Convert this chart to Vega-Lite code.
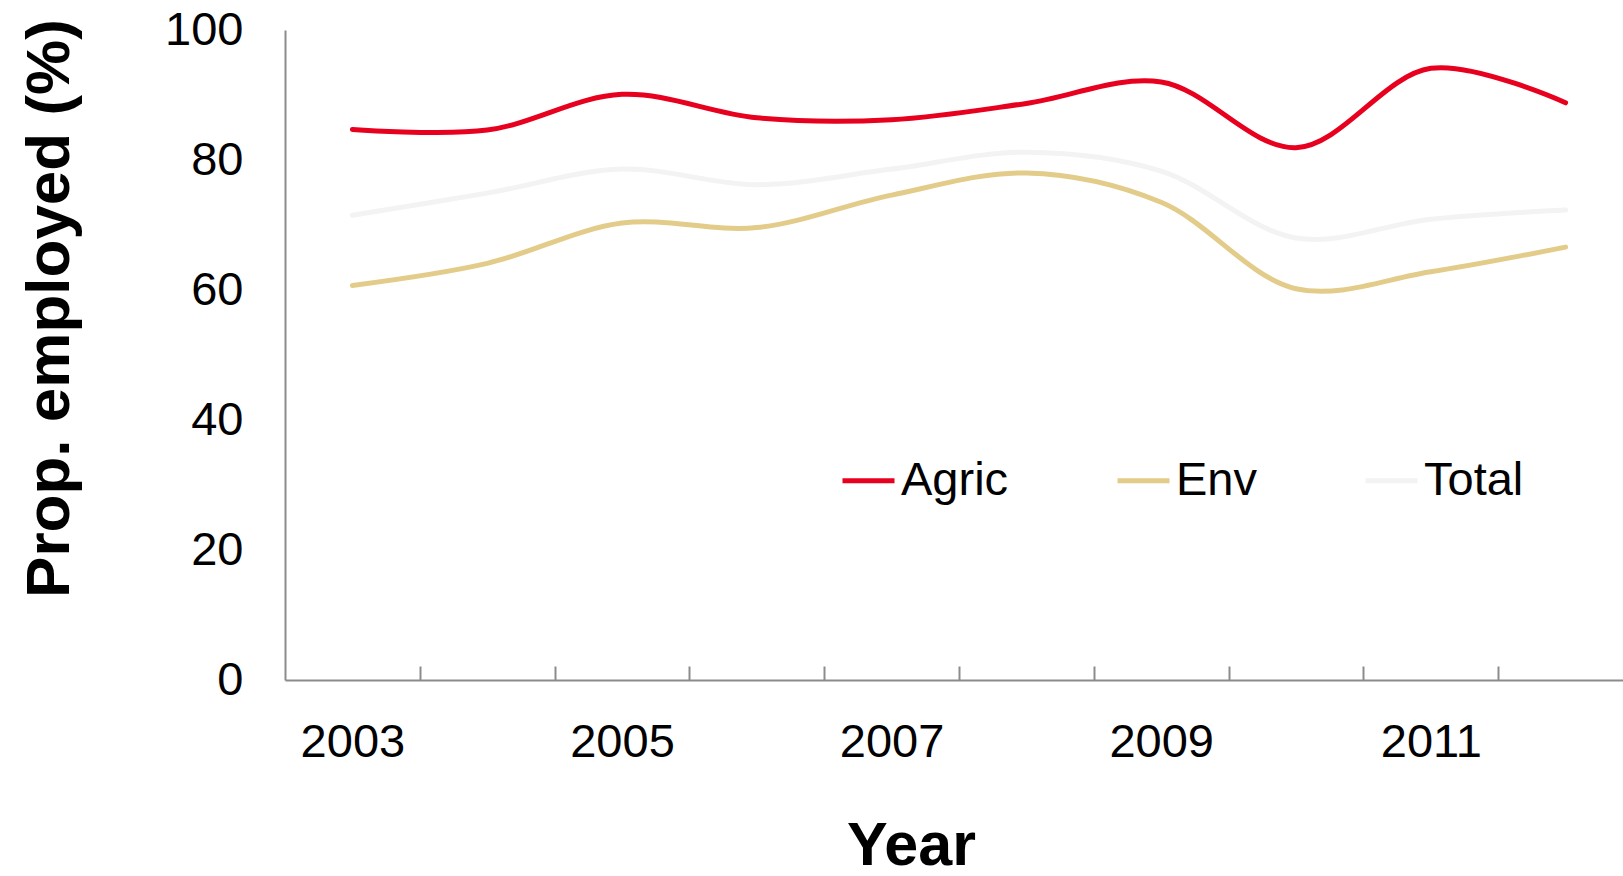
{
  "$schema": "https://vega.github.io/schema/vega-lite/v6.json",
  "autosize": "none",
  "width": 1338,
  "height": 650,
  "padding": {"left": 285, "top": 30, "right": 0, "bottom": 196},
  "background": "white",
  "config": {
    "view": {"stroke": null},
    "font": "Liberation Sans"
  },
  "data": {
    "values": [
      {"year": 2003, "series": "Agric", "value": 84.7},
      {"year": 2004, "series": "Agric", "value": 84.6},
      {"year": 2005, "series": "Agric", "value": 90.1},
      {"year": 2006, "series": "Agric", "value": 86.5},
      {"year": 2007, "series": "Agric", "value": 86.2},
      {"year": 2008, "series": "Agric", "value": 88.7},
      {"year": 2009, "series": "Agric", "value": 92.0},
      {"year": 2010, "series": "Agric", "value": 81.9},
      {"year": 2011, "series": "Agric", "value": 94.1},
      {"year": 2012, "series": "Agric", "value": 88.8},
      {"year": 2003, "series": "Env", "value": 60.7},
      {"year": 2004, "series": "Env", "value": 64.1},
      {"year": 2005, "series": "Env", "value": 70.3},
      {"year": 2006, "series": "Env", "value": 69.6},
      {"year": 2007, "series": "Env", "value": 74.6},
      {"year": 2008, "series": "Env", "value": 78.0},
      {"year": 2009, "series": "Env", "value": 73.5},
      {"year": 2010, "series": "Env", "value": 60.2},
      {"year": 2011, "series": "Env", "value": 62.8},
      {"year": 2012, "series": "Env", "value": 66.6},
      {"year": 2003, "series": "Total", "value": 71.5},
      {"year": 2004, "series": "Total", "value": 74.9},
      {"year": 2005, "series": "Total", "value": 78.6},
      {"year": 2006, "series": "Total", "value": 76.2},
      {"year": 2007, "series": "Total", "value": 78.6},
      {"year": 2008, "series": "Total", "value": 81.2},
      {"year": 2009, "series": "Total", "value": 78.3},
      {"year": 2010, "series": "Total", "value": 68.0},
      {"year": 2011, "series": "Total", "value": 70.9},
      {"year": 2012, "series": "Total", "value": 72.3}
    ]
  },
  "mark": {"type": "line", "interpolate": "catmull-rom", "strokeWidth": 5, "strokeCap": "round"},
  "encoding": {
    "x": {
      "field": "year",
      "type": "quantitative",
      "scale": {"domain": [2002.5, 2012.426], "nice": false, "zero": false},
      "axis": {
        "title": "Year",
        "titleFont": "Liberation Sans",
        "titleFontSize": 61,
        "titleFontWeight": "bold",
        "titleColor": "black",
        "titleX": 626,
        "titleY": 184,
        "titleAlign": "center",
        "titleBaseline": "alphabetic",
        "values": [2003, 2003.5, 2004.5, 2005, 2005.5, 2006.5, 2007, 2007.5, 2008.5, 2009, 2009.5, 2010.5, 2011, 2011.5],
        "labelExpr": "datum.value % 2 == 1 ? format(datum.value, 'd') : ''",
        "labelFontSize": 47,
        "labelColor": "black",
        "labelPadding": 53,
        "labelBaseline": "top",
        "labelOverlap": false,
        "labelFlush": false,
        "labelBound": false,
        "grid": false,
        "domainColor": "#8c8c8c",
        "domainWidth": 2,
        "tickColor": "#8c8c8c",
        "tickWidth": 2,
        "tickSize": -14,
        "tickOpacity": {"condition": {"test": "datum.value % 1 == 0", "value": 0}, "value": 1}
      }
    },
    "y": {
      "field": "value",
      "type": "quantitative",
      "scale": {"domain": [0, 100], "nice": false},
      "axis": {
        "title": "Prop. employed (%)",
        "titleFont": "Liberation Sans",
        "titleFontSize": 62,
        "titleFontWeight": "bold",
        "titleColor": "black",
        "titleX": -217,
        "titleY": 278,
        "titleAngle": -90,
        "titleAlign": "center",
        "titleBaseline": "alphabetic",
        "values": [0, 20, 40, 60, 80, 100],
        "labelFontSize": 47,
        "labelColor": "black",
        "labelPadding": 42,
        "labelFlush": false,
        "labelOverlap": false,
        "ticks": false,
        "grid": false,
        "domainColor": "#8c8c8c",
        "domainWidth": 2
      }
    },
    "color": {
      "field": "series",
      "type": "nominal",
      "scale": {"domain": ["Agric", "Env", "Total"], "range": ["#e8001f", "#e3cc8a", "#f3f3f3"]},
      "legend": {
        "title": null,
        "orient": "none",
        "legendX": 555,
        "legendY": 422,
        "direction": "horizontal",
        "columns": 3,
        "columnPadding": 98,
        "padding": 0,
        "symbolType": "stroke",
        "symbolSize": 2704,
        "symbolStrokeWidth": 5,
        "labelFont": "Liberation Sans",
        "labelFontSize": 47,
        "labelColor": "black",
        "labelOffset": 4,
        "labelLimit": 400
      }
    }
  }
}
